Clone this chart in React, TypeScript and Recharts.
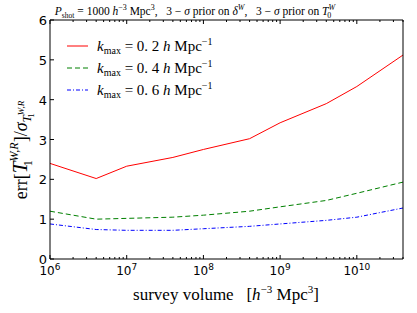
import React from "react";
import { LineChart, Line, XAxis, YAxis } from "recharts";

const volumes = [1e6, 4e6, 1e7, 4e7, 1e8, 4e8, 1e9, 4e9, 1e10, 4e10];
const kmax02 = [2.4, 2.02, 2.33, 2.55, 2.75, 3.02, 3.42, 3.9, 4.33, 5.12];
const kmax04 = [1.2, 1.0, 1.02, 1.05, 1.1, 1.2, 1.31, 1.47, 1.65, 1.93];
const kmax06 = [0.88, 0.74, 0.72, 0.72, 0.76, 0.82, 0.88, 0.97, 1.05, 1.28];
const kmaxLabels = ["0.\u00a02", "0.\u00a04", "0.\u00a06"];
const majorExps = [6, 7, 8, 9, 10];
const yTicks = [0, 1, 2, 3, 4, 5, 6];

const data = volumes.map((v, i) => ({ v, a: kmax02[i], b: kmax04[i], c: kmax06[i] }));

const xTicks: number[] = [];
for (let e = 6; e <= 10; e++) {
  for (let m = 1; m <= 9; m++) {
    const t = m * Math.pow(10, e);
    if (t <= 4e10) xTicks.push(t);
  }
}
const isMajor = (t: number) => {
  const l = Math.log10(t);
  return Math.abs(l - Math.round(l)) < 1e-9;
};

const series = [
  { key: "a", color: "#ff0000", dash: undefined as string | undefined, label: kmaxLabels[0] },
  { key: "b", color: "#008000", dash: "5 3", label: kmaxLabels[1] },
  { key: "c", color: "#0000ff", dash: "4 2 1 2", label: kmaxLabels[2] },
];

const SERIF = "'Liberation Serif', 'DejaVu Serif', serif";
const SANS = "'DejaVu Sans', sans-serif";
const NB = "\u00a0";

const BottomTick = (props: any) => {
  const { x, y, payload } = props;
  const major = isMajor(payload.value);
  const exp = Math.round(Math.log10(payload.value));
  return (
    <g>
      <line x1={x} y1={y} x2={x} y2={y - (major ? 4 : 2)} stroke="#000" strokeWidth={1} />
      {major && majorExps.includes(exp) && (
        <text x={x} y={y + 16} textAnchor="middle" fontFamily={SANS} fontSize={12} fill="#000">
          10<tspan dy={-5} fontSize={9}>{exp}</tspan>
        </text>
      )}
    </g>
  );
};
const TopTick = (props: any) => {
  const { x, y, payload } = props;
  const major = isMajor(payload.value);
  return <line x1={x} y1={y} x2={x} y2={y + (major ? 4 : 2)} stroke="#000" strokeWidth={1} />;
};
const LeftTick = (props: any) => {
  const { x, y, payload } = props;
  return (
    <g>
      <line x1={x} y1={y} x2={x + 4} y2={y} stroke="#000" strokeWidth={1} />
      <text x={x - 3} y={y + 5} textAnchor="end" fontFamily={SANS} fontSize={13} fill="#000">
        {payload.value}
      </text>
    </g>
  );
};
const RightTick = (props: any) => {
  const { x, y } = props;
  return <line x1={x} y1={y} x2={x - 4} y2={y} stroke="#000" strokeWidth={1} />;
};

export default function App() {
  return (
    <div style={{ position: "absolute", left: 0, top: 0, width: 417, height: 313, background: "#fff" }}>
      <LineChart width={417} height={313} data={data} margin={{ top: 0, right: 0, bottom: 0, left: 0 }}>
        <XAxis
          xAxisId="bottom"
          dataKey="v"
          type="number"
          scale="log"
          domain={[1e6, 4e10]}
          allowDataOverflow
          ticks={xTicks}
          interval={0}
          tickSize={0}
          tickMargin={0}
          tickLine={false}
          height={54}
          stroke="#000"
          tick={<BottomTick />}
        />
        <XAxis
          xAxisId="top"
          orientation="top"
          dataKey="v"
          type="number"
          scale="log"
          domain={[1e6, 4e10]}
          allowDataOverflow
          ticks={xTicks}
          interval={0}
          tickSize={0}
          tickMargin={0}
          tickLine={false}
          height={20}
          stroke="#000"
          tick={<TopTick />}
        />
        <YAxis
          yAxisId="left"
          type="number"
          domain={[0, 6]}
          ticks={yTicks}
          interval={0}
          tickSize={0}
          tickMargin={0}
          tickLine={false}
          width={50}
          stroke="#000"
          tick={<LeftTick />}
        />
        <YAxis
          yAxisId="right"
          orientation="right"
          type="number"
          domain={[0, 6]}
          ticks={yTicks}
          interval={0}
          tickSize={0}
          tickMargin={0}
          tickLine={false}
          width={14}
          stroke="#000"
          tick={<RightTick />}
        />
        {series.map((s) => (
          <Line
            key={s.key}
            xAxisId="bottom"
            yAxisId="left"
            dataKey={s.key}
            stroke={s.color}
            strokeWidth={1}
            strokeDasharray={s.dash}
            dot={false}
            type="linear"
            isAnimationActive={false}
          />
        ))}
      </LineChart>
      <svg
        width={417}
        height={313}
        style={{ position: "absolute", left: 0, top: 0, pointerEvents: "none" }}
      >
        <text x={195} y={15} textAnchor="middle" fontFamily={SERIF} fontSize={11.5} fill="#000">
          <tspan fontStyle="italic">P</tspan>
          <tspan dy={3} fontSize={7.5}>shot</tspan>
          <tspan dy={-3}>{NB}={NB}1000{NB}</tspan>
          <tspan fontStyle="italic">h</tspan>
          <tspan dy={-5} fontSize={8}>−3</tspan>
          <tspan dy={5}>{NB}Mpc</tspan>
          <tspan dy={-5} fontSize={8}>3</tspan>
          <tspan dy={5}>,{NB}{NB}{NB}3{NB}−{NB}</tspan>
          <tspan fontStyle="italic">σ</tspan>
          <tspan>{NB}prior{NB}on{NB}</tspan>
          <tspan fontStyle="italic">δ</tspan>
          <tspan dy={-5} fontSize={8} fontStyle="italic">W</tspan>
          <tspan dy={5}>,{NB}{NB}{NB}3{NB}−{NB}</tspan>
          <tspan fontStyle="italic">σ</tspan>
          <tspan>{NB}prior{NB}on{NB}</tspan>
          <tspan fontStyle="italic">T</tspan>
          <tspan dy={-5} fontSize={8} fontStyle="italic">W</tspan>
          <tspan dx={-8} dy={8} fontSize={8}>0</tspan>
        </text>
        {series.map((s, i) => (
          <g key={s.key}>
            <line
              x1={67}
              x2={88}
              y1={46 + i * 22}
              y2={46 + i * 22}
              stroke={s.color}
              strokeWidth={1}
              strokeDasharray={s.dash}
            />
            <text x={97} y={51 + i * 22} fontFamily={SERIF} fontSize={15} fill="#000">
              <tspan fontStyle="italic">k</tspan>
              <tspan dy={3} fontSize={10}>max</tspan>
              <tspan dy={-3}>{NB}={NB}{s.label}{NB}</tspan>
              <tspan fontStyle="italic">h</tspan>
              <tspan>{NB}Mpc</tspan>
              <tspan dy={-6} fontSize={10}>−1</tspan>
            </text>
          </g>
        ))}
        <text x={226} y={300} textAnchor="middle" fontFamily={SERIF} fontSize={17} fill="#000">
          survey{NB}volume{NB}{NB}{NB}[<tspan fontStyle="italic">h</tspan>
          <tspan dy={-7} fontSize={11}>−3</tspan>
          <tspan dy={7}>{NB}Mpc</tspan>
          <tspan dy={-7} fontSize={11}>3</tspan>
          <tspan dy={7}>]</tspan>
        </text>
        <text
          transform="translate(27,150) rotate(-90)"
          textAnchor="middle"
          fontFamily={SERIF}
          fontSize={18}
          fill="#000"
        >
          err[<tspan fontStyle="italic" fontSize={21}>T</tspan>
          <tspan dy={-9} fontSize={12} fontStyle="italic">W,R</tspan>
          <tspan dx={-24} dy={14} fontSize={12}>1</tspan>
          <tspan dx={18} dy={-5}>]/</tspan>
          <tspan fontStyle="italic">σ</tspan>
          <tspan dy={4} fontSize={13} fontStyle="italic">T</tspan>
          <tspan dy={-7} fontSize={9} fontStyle="italic">W,R</tspan>
          <tspan dx={-17} dy={10} fontSize={9}>1</tspan>
        </text>
      </svg>
    </div>
  );
}
